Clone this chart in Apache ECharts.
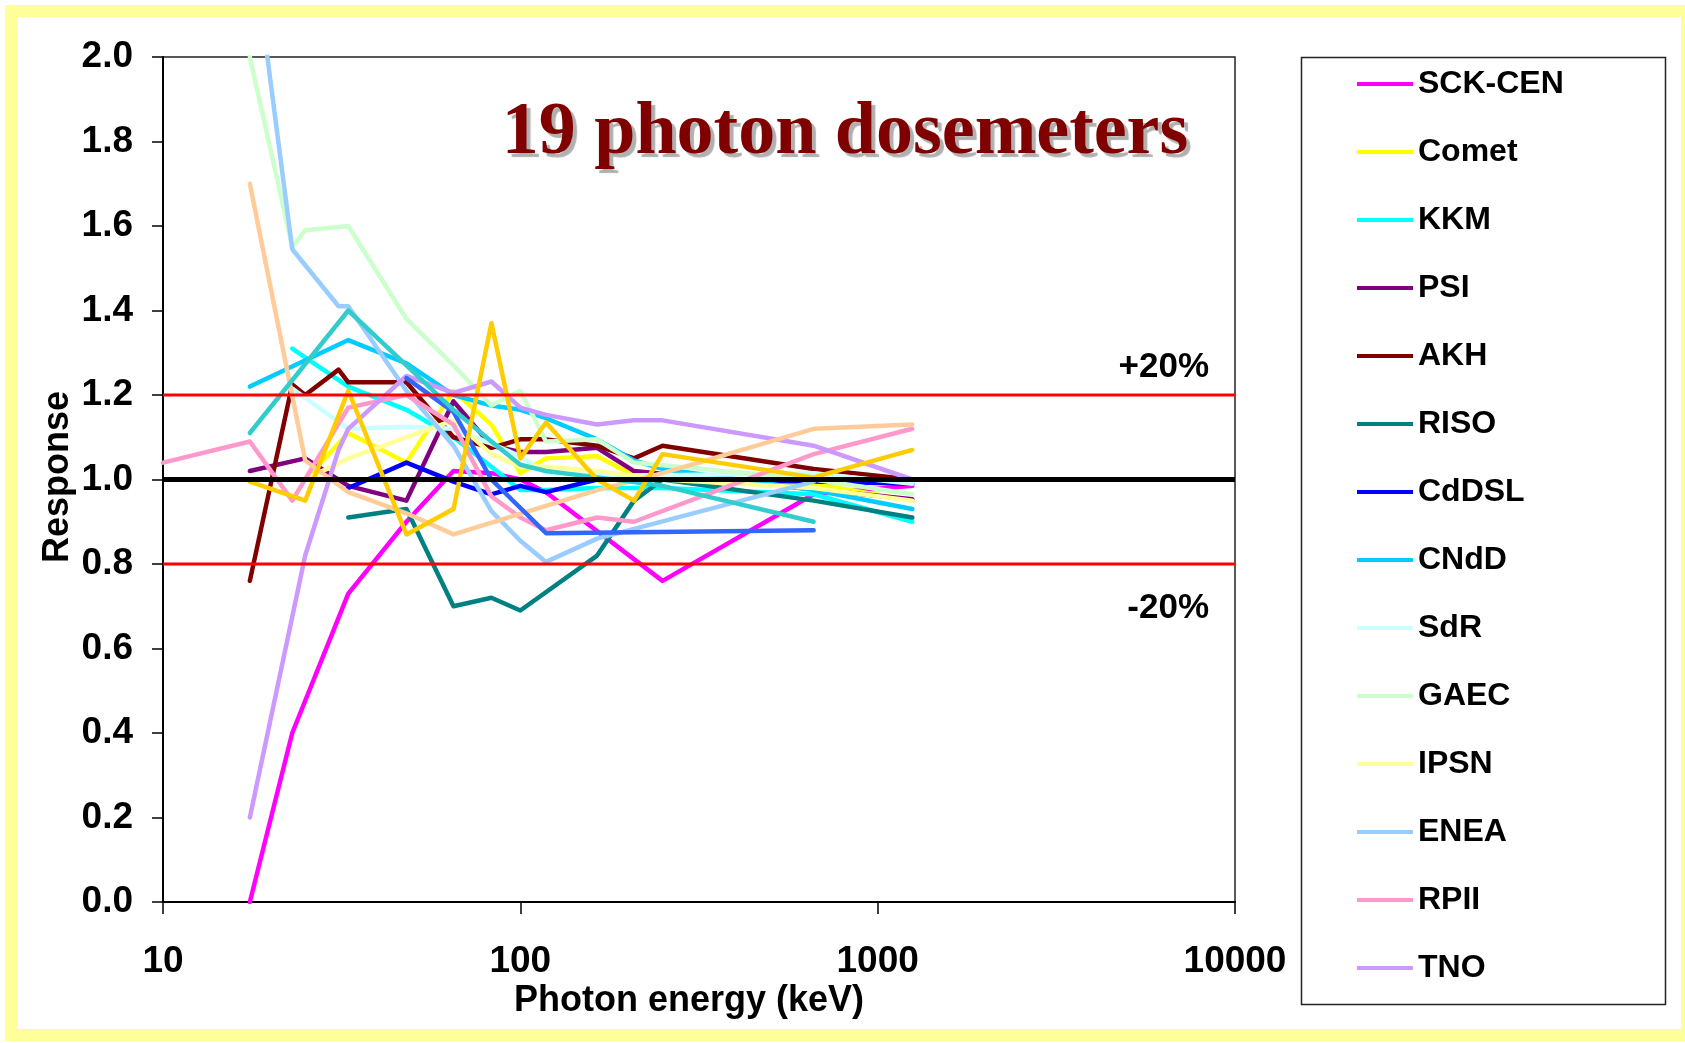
<!DOCTYPE html>
<html>
<head>
<meta charset="utf-8">
<style>
  html, body { margin: 0; padding: 0; background: #ffffff; }
  #chart { width: 1685px; height: 1043px; }
</style>
<script src="https://cdn.jsdelivr.net/npm/echarts@6/dist/echarts.min.js"></script>
</head>
<body>
<div id="chart"></div>
<script>
// Photon energies (keV) at which the dosemeters were irradiated
const energies = [10, 17.5, 23, 25, 31, 33, 48, 65, 83, 100, 118, 164, 208, 250, 662, 1250];

// Relative response per laboratory (null = not measured at that energy)
const n = null;
const sckCen = [n, 0.00, 0.40, n, n, 0.73, 0.90, 1.02, 1.015, 1.00, 0.97, n, n, 0.76, 0.965, 0.985];
const comet  = [n, 1.00, n, 1.00, n, 1.11, 1.04, 1.21, 1.13, 1.015, 1.05, 1.055, 1.01, n, 0.99, 0.95];
const kkm    = [n, n, 1.31, n, n, 1.22, 1.165, 1.10, 1.03, 0.975, 0.975, 0.98, n, 0.98, 0.965, 0.90];
const psi    = [n, 1.02, n, 1.05, n, 0.985, 0.95, 1.185, 1.08, 1.065, 1.065, 1.075, 1.02, n, n, 0.953];
const akh    = [n, 0.76, 1.225, 1.20, 1.26, 1.23, 1.23, 1.10, 1.075, 1.095, 1.095, 1.08, 1.05, 1.08, 1.025, 1.00];
const riso   = [n, n, n, n, n, 0.91, 0.93, 0.70, 0.72, 0.69, n, 0.82, 0.95, 1.00, 0.95, 0.91];
const cddsl  = [n, n, n, n, n, 0.98, 1.04, 0.995, 0.965, 0.985, 0.97, 1.00, n, 1.00, 0.995, 0.99];
const cndd   = [n, 1.22, n, n, n, 1.33, 1.275, 1.20, 1.175, 1.165, 1.145, 1.095, 1.045, 1.025, 0.975, 0.93];
const sdr    = [n, n, 1.215, n, n, 1.12, 1.125, 1.12, 1.085, 1.055, 1.015, 1.01, n, 1.01, 1.015, 0.99];
const gaec   = [n, 2.00, 1.55, 1.59, n, 1.60, 1.38, 1.27, 1.175, 1.21, 1.09, 1.095, 1.04, n, 1.00, 0.965];
const ipsn   = [n, n, n, 1.00, n, 1.05, 1.10, 1.14, 1.06, 1.03, 1.03, 1.02, n, 1.00, 0.98, 0.95];
const enea   = [n, 2.32, 1.545, n, 1.41, 1.41, 1.21, 1.08, 0.925, 0.855, 0.805, 0.86, n, n, 0.995, n];
const rpii   = [1.04, 1.09, 0.95, n, n, 1.17, 1.20, 1.13, 0.96, 0.91, 0.88, 0.91, 0.90, n, 1.06, 1.12];
const tno    = [n, 0.20, n, 0.82, 1.07, 1.12, 1.245, 1.205, 1.232, 1.17, 1.153, 1.13, 1.14, 1.14, 1.08, 1.00];
const dos15  = [n, 1.70, n, 1.045, n, 0.97, 0.92, 0.87, n, n, n, 0.975, n, 1.015, 1.12, 1.13];
const dos16  = [n, n, n, n, n, n, 1.24, 1.16, 1.00, n, 0.873, n, n, n, 0.88, n];
const dos17  = [n, 1.11, n, n, n, 1.40, 1.27, 1.165, 1.09, 1.035, 1.02, 1.005, n, 0.985, 0.90, n];
const dos18  = [n, 0.995, n, 0.95, n, 1.21, 0.87, 0.93, 1.37, 1.05, 1.135, 1.00, 0.95, 1.06, 1.005, 1.07];

// Reference levels
const idealResponse = 1.0;
const upperLimit = 1.2;
const lowerLimit = 0.8;
const energyRange = [10, 10000];

// Axis tick labels
const yTicks = ['0.0', '0.2', '0.4', '0.6', '0.8', '1.0', '1.2', '1.4', '1.6', '1.8', '2.0'];
const xTicks = ['10', '100', '1000', '10000'];

const dosemeters = [
  { name: 'SCK-CEN', values: sckCen, color: '#FF00FF' },
  { name: 'Comet',   values: comet,  color: '#FFFF00' },
  { name: 'KKM',     values: kkm,    color: '#00FFFF' },
  { name: 'PSI',     values: psi,    color: '#800080' },
  { name: 'AKH',     values: akh,    color: '#800000' },
  { name: 'RISO',    values: riso,   color: '#008080' },
  { name: 'CdDSL',   values: cddsl,  color: '#0000FF' },
  { name: 'CNdD',    values: cndd,   color: '#00CCFF' },
  { name: 'SdR',     values: sdr,    color: '#CCFFFF' },
  { name: 'GAEC',    values: gaec,   color: '#CCFFCC' },
  { name: 'IPSN',    values: ipsn,   color: '#FFFF99' },
  { name: 'ENEA',    values: enea,   color: '#99CCFF' },
  { name: 'RPII',    values: rpii,   color: '#FF99CC' },
  { name: 'TNO',     values: tno,    color: '#CC99FF' },
  { name: 'Dosemeter 15', values: dos15, color: '#FFCC99' },
  { name: 'Dosemeter 16', values: dos16, color: '#3366FF' },
  { name: 'Dosemeter 17', values: dos17, color: '#33CCCC' },
  { name: 'Dosemeter 18', values: dos18, color: '#FFCC00' }
];
const legendNames = dosemeters.slice(0, 14).map(d => d.name);

function pairs(values) {
  const out = [];
  values.forEach((v, i) => { if (v !== null) out.push([energies[i], v]); });
  return out;
}

const series = dosemeters.map(d => ({
  name: d.name,
  type: 'line',
  data: pairs(d.values),
  symbol: 'none',
  clip: true,
  lineStyle: { color: d.color, width: 4.5, cap: 'round', join: 'round' },
  itemStyle: { color: d.color },
  emphasis: { disabled: true },
  z: 2
}));

function levelLine(level, color, width) {
  return {
    type: 'line',
    data: energyRange.map(e => [e, level]),
    symbol: 'none',
    silent: true,
    lineStyle: { color: color, width: width },
    z: 5
  };
}
series.push(levelLine(upperLimit, '#FF0000', 3));
series.push(levelLine(lowerLimit, '#FF0000', 3));
series.push(levelLine(idealResponse, '#000000', 5));

const chart = echarts.init(document.getElementById('chart'), null, { renderer: 'canvas' });
const sans = 'Liberation Sans, Arial, sans-serif';

chart.setOption({
  animation: false,
  backgroundColor: '#ffffff',
  grid: {
    left: 163, right: 450, top: 57, bottom: 141,
    show: true, borderColor: '#222', borderWidth: 1.5, backgroundColor: '#ffffff'
  },
  xAxis: {
    type: 'log',
    logBase: 10,
    min: energyRange[0],
    max: energyRange[1],
    axisLine: { show: true, onZero: false, lineStyle: { color: '#000', width: 2 } },
    axisTick: { show: true, length: 12, lineStyle: { color: '#000', width: 1.5 } },
    minorTick: { show: false },
    splitLine: { show: false },
    axisLabel: {
      margin: 41,
      fontFamily: sans, fontWeight: 'bold', fontSize: 37, color: '#000',
      formatter: v => xTicks.find(t => Number(t) === Math.round(v)) || ''
    }
  },
  yAxis: {
    type: 'value',
    min: 0, max: 2, interval: 0.2,
    axisLine: { show: true, onZero: false, lineStyle: { color: '#000', width: 2 } },
    axisTick: { show: true, length: 11, lineStyle: { color: '#000', width: 1.5 } },
    splitLine: { show: false },
    axisLabel: {
      margin: 30,
      fontFamily: sans, fontWeight: 'bold', fontSize: 37, color: '#000',
      formatter: v => yTicks[Math.round(v * 5)]
    }
  },
  legend: {
    data: legendNames,
    orient: 'vertical',
    left: 1352, top: 63,
    icon: 'rect',
    itemWidth: 56, itemHeight: 4,
    itemGap: 36,
    selectedMode: false,
    textStyle: { fontFamily: sans, fontWeight: 'bold', fontSize: 32, lineHeight: 32, color: '#000' }
  },
  graphic: [
    // yellow frame round the whole chart
    { type: 'rect', shape: { x: 11, y: 11, width: 1676, height: 1024 },
      style: { fill: 'none', stroke: '#FFFF99', lineWidth: 12 }, z: -1, silent: true },
    // legend box
    { type: 'rect', shape: { x: 1301.5, y: 57.5, width: 364, height: 947 },
      style: { fill: 'none', stroke: '#222', lineWidth: 1.5 }, z: 10, silent: true },
    { type: 'text', x: 845, y: 134, z: 20, silent: true,
      style: { text: '19 photon dosemeters', fontFamily: 'Liberation Serif, Times New Roman, serif',
               fontWeight: 'bold', fontSize: 74, fill: '#800000', align: 'center', verticalAlign: 'middle',
               textShadowColor: '#b0b0b0', textShadowOffsetX: 4, textShadowOffsetY: 4, textShadowBlur: 1 } },
    { type: 'text', x: 1209, y: 367, z: 20, silent: true,
      style: { text: '+20%', fontFamily: sans, fontWeight: 'bold', fontSize: 35, fill: '#000',
               align: 'right', verticalAlign: 'middle' } },
    { type: 'text', x: 1209, y: 608, z: 20, silent: true,
      style: { text: '-20%', fontFamily: sans, fontWeight: 'bold', fontSize: 35, fill: '#000',
               align: 'right', verticalAlign: 'middle' } },
    { type: 'text', x: 689, y: 1001, z: 20, silent: true,
      style: { text: 'Photon energy (keV)', fontFamily: sans, fontWeight: 'bold', fontSize: 36, fill: '#000',
               align: 'center', verticalAlign: 'middle' } },
    { type: 'text', x: 58, y: 477, rotation: Math.PI / 2, z: 20, silent: true,
      style: { text: 'Response', fontFamily: sans, fontWeight: 'bold', fontSize: 36, fill: '#000',
               align: 'center', verticalAlign: 'middle' } }
  ],
  series: series
});
</script>
</body>
</html>
